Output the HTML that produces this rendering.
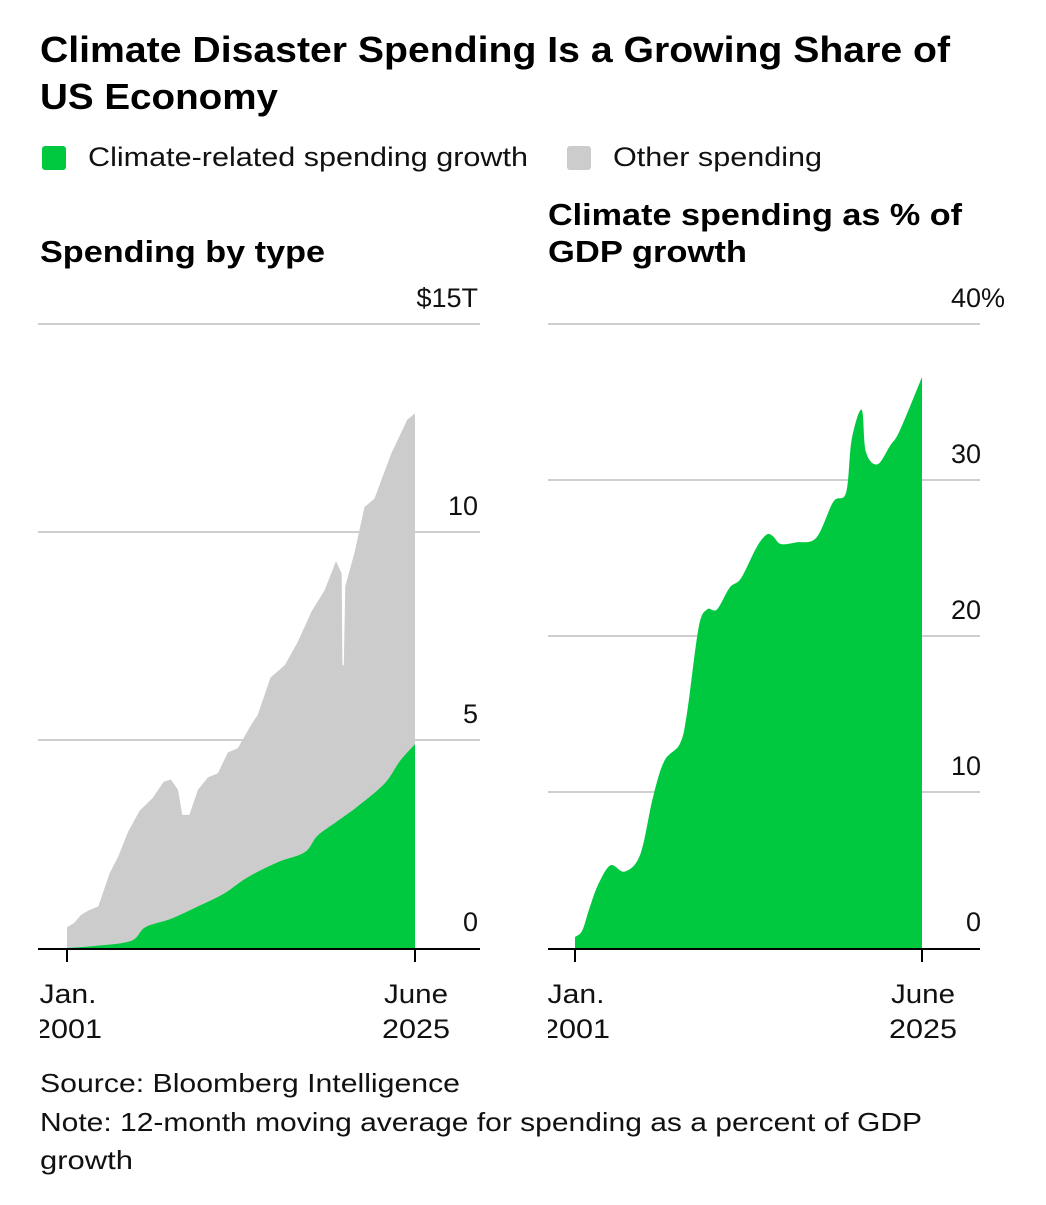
<!DOCTYPE html>
<html><head><meta charset="utf-8"><style>
body{margin:0;background:#fff;width:1046px;height:1200px;overflow:hidden;font-family:"Liberation Sans",sans-serif;}
svg text{font-family:"Liberation Sans",sans-serif;}
</style></head><body>
<svg id="c" width="1046" height="1200" xmlns="http://www.w3.org/2000/svg">
<defs>
<clipPath id="clipL"><rect x="40" y="960" width="450" height="100"/></clipPath>
<clipPath id="clipR"><rect x="548" y="960" width="460" height="100"/></clipPath>
</defs>
<text x="40" y="62" font-size="36" font-weight="bold" fill="#000" textLength="910" lengthAdjust="spacingAndGlyphs">Climate Disaster Spending Is a Growing Share of</text>
<text x="40" y="109" font-size="36" font-weight="bold" fill="#000" textLength="238" lengthAdjust="spacingAndGlyphs">US Economy</text>
<g>
<rect x="42" y="146" width="24" height="24" rx="3" fill="#00c940"/>
<text x="88" y="166" font-size="27" fill="#111" textLength="440" lengthAdjust="spacingAndGlyphs">Climate-related spending growth</text>
<rect x="567" y="146" width="24" height="24" rx="3" fill="#cccccc"/>
<text x="613" y="166" font-size="27" fill="#111" textLength="209" lengthAdjust="spacingAndGlyphs">Other spending</text>
</g>
<text x="40" y="262" font-size="31" font-weight="bold" textLength="285" lengthAdjust="spacingAndGlyphs">Spending by type</text>
<text x="548" y="225" font-size="31" font-weight="bold" textLength="414" lengthAdjust="spacingAndGlyphs">Climate spending as % of</text>
<text x="548" y="262" font-size="31" font-weight="bold" textLength="199" lengthAdjust="spacingAndGlyphs">GDP growth</text>
<g id="left"></g>
<g id="right"></g>
<text x="40" y="1092" font-size="26" fill="#111" textLength="420" lengthAdjust="spacingAndGlyphs">Source: Bloomberg Intelligence</text>
<text x="40" y="1131" font-size="26" fill="#111" textLength="882" lengthAdjust="spacingAndGlyphs">Note: 12-month moving average for spending as a percent of GDP</text>
<text x="40" y="1169" font-size="26" fill="#111" textLength="93" lengthAdjust="spacingAndGlyphs">growth</text>
</svg>
<script>
// Left chart data (years, $T)
const totalYears = [2001.0,2001.5,2002.0,2002.5,2003.2,2003.6,2004.0,2004.6,2005.3,2006.1,2007.0,2007.8,2008.3,2008.8,2009.1,2009.6,2010.2,2010.9,2011.6,2012.3,2013.0,2014.0,2014.4,2015.3,2016.3,2017.2,2018.2,2019.1,2019.9,2020.3,2020.35,2020.45,2020.55,2021.2,2021.9,2022.6,2023.8,2024.9,2025.45];
const totalValues = [0.5,0.6,0.8,0.9,1.0,1.4,1.8,2.2,2.8,3.3,3.6,4.0,4.05,3.8,3.2,3.2,3.8,4.1,4.2,4.7,4.8,5.4,5.6,6.5,6.8,7.35,8.1,8.6,9.3,9.0,6.8,6.8,8.7,9.5,10.6,10.8,11.9,12.7,12.85];
const climateYears = [2001.0,2003.0,2005.5,2006.5,2008.3,2010.2,2012.0,2013.7,2015.8,2017.7,2018.6,2020.0,2021.4,2023.3,2024.4,2025.45];
const climateValues = [0.0,0.05,0.17,0.5,0.7,1.0,1.3,1.7,2.06,2.3,2.7,3.05,3.4,3.95,4.5,4.9];
const leftTicks = [0,5,10,15];
const leftTickLabels = ["0","5","10","$15T"];
// Right chart data (% of GDP growth)
const shareYears = [2001.0,2001.5,2002.0,2002.6,2003.5,2004.5,2005.6,2006.5,2007.3,2008.4,2008.9,2009.7,2010.3,2011.0,2011.9,2012.7,2013.8,2014.5,2014.95,2015.5,2016.6,2018.0,2019.2,2020.1,2020.5,2021.2,2021.5,2022.3,2023.2,2023.9,2025.45];
const shareValues = [0.7,1.1,2.5,4.0,5.3,4.9,6.0,9.7,12.0,13.1,15.1,20.5,21.7,21.7,23.1,23.7,25.7,26.5,26.4,25.9,26.0,26.3,28.6,29.2,32.6,34.5,31.8,31.0,32.2,33.2,36.6];
const rightTicks = [0,10,20,30,40];
const rightTickLabels = ["0","10","20","30","40%"];
const xLabels = ["Jan.","2001","June","2025"];

const NS="http://www.w3.org/2000/svg";
function mk(parent,tag,attrs){const e=document.createElementNS(NS,tag);for(const k in attrs)e.setAttribute(k,attrs[k]);parent.appendChild(e);return e;}
const y0=948, yTop=324, x0Year=2001.0, x1Year=2025.45;

function panel(g, px0, px1, gl0, gl1, labelX, maxV, ticks, tickLabels){
  const xs=v=>px0+(v-x0Year)/(x1Year-x0Year)*(px1-px0);
  const ys=v=>y0-(v/maxV)*(y0-yTop);
  ticks.forEach((t,i)=>{
    if(t>0){const l=mk(g,'line',{x1:gl0,x2:gl1,y1:ys(t),y2:ys(t),stroke:'#cfcfcf','stroke-width':2});
    
    }
    const last=(i===ticks.length-1);
    const tx=mk(g,'text',{x:labelX+(last?(labelX>600?24:0):0),y:ys(t)-17,'font-size':27,'text-anchor':'end',fill:'#111'});
    tx.textContent=tickLabels[i];
    
    
  });
  return {xs,ys};
}
function area(g,xs,ys,X,Y,fill,smooth,name){
  let d='M'+xs(X[0])+','+y0+' L'+xs(X[0])+','+ys(Y[0]);
  if(!smooth){for(let i=1;i<X.length;i++)d+=' L'+xs(X[i]).toFixed(1)+','+ys(Y[i]).toFixed(1);}
  else{
    const P=X.map((x,i)=>[xs(x),ys(Y[i])]);
    for(let i=0;i<P.length-1;i++){
      const p0=P[Math.max(0,i-1)],p1=P[i],p2=P[i+1],p3=P[Math.min(P.length-1,i+2)];
      const c1=[p1[0]+(p2[0]-p0[0])/6,p1[1]+(p2[1]-p0[1])/6];
      const c2=[p2[0]-(p3[0]-p1[0])/6,p2[1]-(p3[1]-p1[1])/6];
      d+=' C'+c1.map(v=>v.toFixed(1))+' '+c2.map(v=>v.toFixed(1))+' '+p2.map(v=>v.toFixed(1));
    }
  }
  d+=' L'+xs(X[X.length-1])+','+y0+' Z';
  const p=mk(g,'path',{d:d,fill:fill});
  
  
}
function xaxis(g,ax0,ax1,px0,px1,clip){
  const a=mk(g,'line',{x1:ax0,x2:ax1,y1:y0+1,y2:y0+1,stroke:'#000','stroke-width':2});
  
  
  [px0,px1].forEach((x,i)=>{
    const t=mk(g,'line',{x1:x,x2:x,y1:y0,y2:y0+14,stroke:'#000','stroke-width':2});
    
    
    const gg=mk(g,'g',{'clip-path':'url(#'+clip+')'});
    const l1=mk(gg,'text',{x:x+1,y:1003,'font-size':27,'text-anchor':'middle',fill:'#111',textLength:(i?64:57),lengthAdjust:'spacingAndGlyphs'});
    l1.textContent=xLabels[i*2];
    
    
    const l2=mk(gg,'text',{x:x+1,y:1038,'font-size':27,'text-anchor':'middle',fill:'#111',textLength:68,lengthAdjust:'spacingAndGlyphs'});
    l2.textContent=xLabels[i*2+1];
    
    
  });
}
const L=document.getElementById('left');


const pl=panel(L,67,415,38,480,478,15,leftTicks,leftTickLabels);
area(L,pl.xs,pl.ys,totalYears,totalValues,'#cccccc',false,'area-other-spending');
area(L,pl.xs,pl.ys,climateYears,climateValues,'#00c940',true,'area-climate-spending');
xaxis(L,38,480,67,415,'clipL');

const R=document.getElementById('right');


const pr=panel(R,575,922,548,980,981,40,rightTicks,rightTickLabels);
area(R,pr.xs,pr.ys,shareYears,shareValues,'#00c940',true,'area-climate-share');
xaxis(R,548,980,575,922,'clipR');
</script>
</body></html>
